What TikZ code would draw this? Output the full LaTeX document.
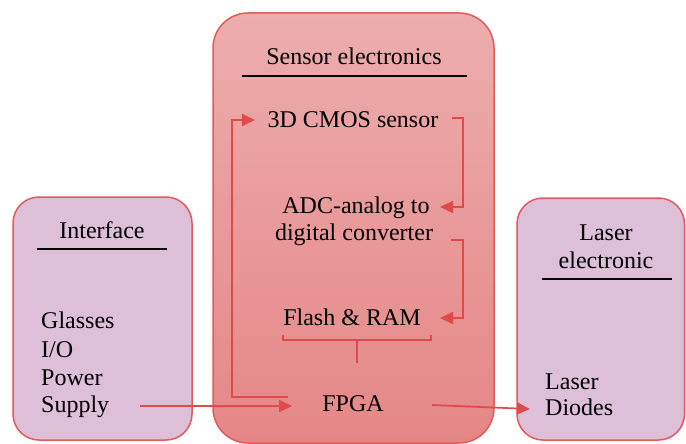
\documentclass[tikz,border=0pt]{standalone}
\usepackage{fontspec}
\setmainfont{Liberation Serif}
\usetikzlibrary{arrows.meta}
\definecolor{boxred}{HTML}{E25A5A}
\definecolor{arrred}{HTML}{E04A4A}
\definecolor{ctop}{HTML}{EDADAD}
\definecolor{cbot}{HTML}{E58686}
\definecolor{side}{HTML}{DDBFD7}
\begin{document}
\begin{tikzpicture}[x=1pt,y=-1pt,
  every node/.style={inner sep=0pt, font=\fontsize{24}{28}\selectfont},
  txt/.style={anchor=base},
  ltxt/.style={anchor=base west},
  box/.style={draw=boxred, line width=1.5pt},
  rule/.style={draw=black, line width=2.5pt},
  conn/.style={draw=arrred, line width=1.7pt},
  arr/.style={conn, -{Triangle[length=13pt,width=12pt]}}]
\useasboundingbox (0,0) rectangle (686,444);
% boxes
\path[box, rounded corners=35pt, top color=ctop, bottom color=cbot] (213,13) rectangle (494,443);
\path[box, rounded corners=26pt, fill=side] (13,197) rectangle (192,440);
\path[box, rounded corners=26pt, fill=side] (517,198) rectangle (684.5,440);
% sensor electronics
\node[txt] (stitle) at (354,65) {Sensor electronics};
\draw[rule] (242,76) -- (467,76);
\node[txt] (cmos) at (353,128) {3D CMOS sensor};
\node[txt] (adc1) at (356,213) {ADC-analog to};
\node[txt] (adc2) at (354,240) {digital converter};
\node[txt] (flash) at (352,325) {Flash \& RAM};
\node[txt] (fpga) at (353,411) {FPGA};
% interface
\node[txt] (ititle) at (102,238) {Interface};
\draw[rule] (37,249) -- (167,249);
\node[ltxt] (g1) at (41,328) {Glasses};
\node[ltxt] (g2) at (41,357) {I/O};
\node[ltxt] (g3) at (41,385) {Power};
\node[ltxt] (g4) at (41,412) {Supply};
% laser
\node[txt] (ltitle1) at (606,240) {Laser};
\node[txt] (ltitle2) at (606,268) {electronic};
\draw[rule] (542,279) -- (672,279);
\node[ltxt] (d1) at (545,389) {Laser};
\node[ltxt] (d2) at (545,415) {Diodes};
% connector points
\coordinate (loopS) at (288,397);
\coordinate (loopC) at (232,120);
\coordinate (cmosR) at (452,118);
\coordinate (adcR) at (451,240);
\coordinate (bL) at (283,335);
\coordinate (bR) at (431,335);
\coordinate (bM) at (357,340);
\coordinate (cmosIn) at (255,120);
\coordinate (adcIn) at (440,207);
\coordinate (flashIn) at (440,318);
\coordinate (ifOut) at (140,406);
\coordinate (fpgaIn) at (292,406);
\coordinate (fpgaOut) at (432,405);
\coordinate (laserIn) at (530,409);
% connectors
\draw[arr] (loopS) -| (loopC) -- (cmosIn);
\draw[arr] (cmosR) -| (adcIn -| 463,0) -- (adcIn);
\draw[arr] (adcR) -| (flashIn -| 463,0) -- (flashIn);
\draw[conn] (bL) -- (bL |- bM) -- (bR |- bM) -- (bR);
\draw[conn] (bM) -- (357,363);
\draw[arr] (ifOut) -- (fpgaIn);
\draw[arr] (fpgaOut) -- (laserIn);
\end{tikzpicture}
\end{document}
